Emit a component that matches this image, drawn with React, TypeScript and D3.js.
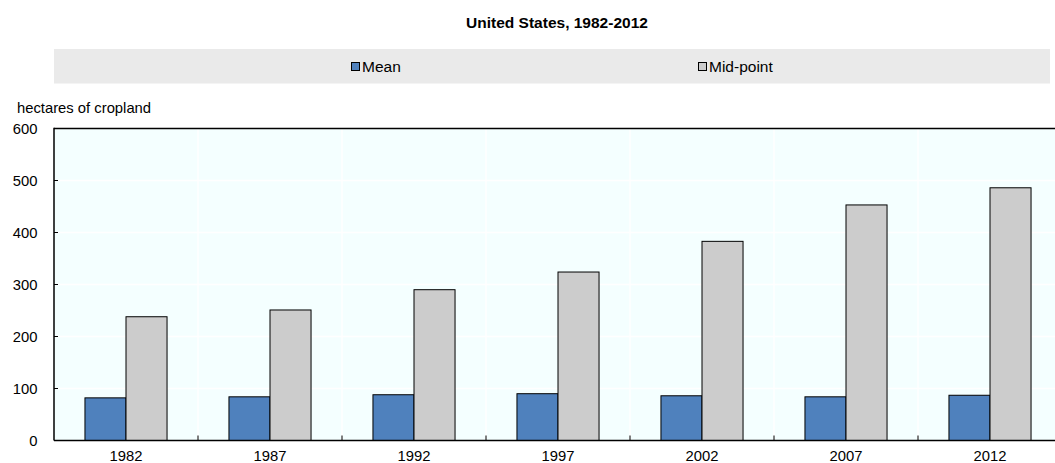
import React from "react";
import * as d3 from "d3";

const title = "United States, 1982-2012";
const yLabel = "hectares of cropland";
const categories = ["1982", "1987", "1992", "1997", "2002", "2007", "2012"];
const seriesNames = ["Mean", "Mid-point"];
const meanValues = [82, 84, 88, 90, 86, 84, 87];
const midValues = [238, 251, 290, 324, 383, 453, 486];
const yTicks = [0, 100, 200, 300, 400, 500, 600];
const colors = ["#4F81BD", "#CCCCCC"];

const W = 1055;
const H = 463;
const FONT = "'Liberation Sans', Arial, sans-serif";

export default function App() {
  const left = 54;
  const right = 1062;
  const top = 128.5;
  const bottom = 440.5;

  const x = d3.scaleBand<string>().domain(categories).range([left, right]).padding(0);
  const y = d3.scaleLinear().domain([0, 600]).range([bottom, top]);
  const barW = x.bandwidth() * 0.285;
  const series = [meanValues, midValues];

  return (
    <svg width={W} height={H} style={{ position: "absolute", left: 0, top: 0, fontFamily: FONT }}>
      <rect x={0} y={0} width={W} height={H} fill="#ffffff" />
      <text x={557} y={28} textAnchor="middle" fontSize={15.5} fontWeight="bold" fill="#000">
        {title}
      </text>
      {/* legend */}
      <rect x={54} y={49} width={996} height={34.5} fill="#EAEAEA" />
      {seriesNames.map((s, i) => {
        const lx = i === 0 ? 351 : 698;
        return (
          <g key={s}>
            <rect x={lx + 0.5} y={62.5} width={8} height={8} fill={colors[i]} stroke="#000" strokeWidth={1} />
            <text x={lx + 11} y={72} fontSize={15.5} fill="#000">
              {s}
            </text>
          </g>
        );
      })}
      <text x={17} y={112.7} fontSize={14.8} fill="#000">
        {yLabel}
      </text>
      {/* plot background */}
      <rect x={left} y={top} width={W - left} height={bottom - top} fill="#F4FFFF" />
      {/* gridlines */}
      {yTicks.slice(1, -1).map((t) => (
        <line key={t} x1={left} x2={W} y1={y(t)} y2={y(t)} stroke="#ffffff" strokeWidth={1.5} />
      ))}
      {categories.slice(1).map((c) => (
        <line key={c} x1={x(c)!} x2={x(c)!} y1={top} y2={bottom} stroke="#ffffff" strokeWidth={1.5} />
      ))}
      {/* bars */}
      {categories.map((c, ci) =>
        series.map((vals, si) => {
          const cx = x(c)! + x.bandwidth() / 2;
          const bx = cx - barW + si * barW;
          return (
            <rect
              key={c + si}
              x={bx}
              y={y(vals[ci])}
              width={barW}
              height={bottom - y(vals[ci])}
              fill={colors[si]}
              stroke="#000"
              strokeWidth={1}
            />
          );
        })
      )}
      {/* top border */}
      <line x1={left} x2={W} y1={top} y2={top} stroke="#000" strokeWidth={1.5} />
      {/* axes */}
      <line x1={left} x2={left} y1={top - 0.75} y2={bottom} stroke="#000" strokeWidth={1.5} />
      <line x1={left} x2={W} y1={bottom} y2={bottom} stroke="#000" strokeWidth={1.5} />
      {yTicks.map((t) => (
        <g key={t}>
          <line x1={left} x2={left + 4} y1={y(t)} y2={y(t)} stroke="#000" strokeWidth={1} />
          <text x={37.5} y={y(t) + 5.3} textAnchor="end" fontSize={14.8} fill="#000">
            {t}
          </text>
        </g>
      ))}
      {categories.slice(1).map((c) => (
        <line key={c} x1={x(c)!} x2={x(c)!} y1={bottom} y2={bottom - 5} stroke="#000" strokeWidth={1} />
      ))}
      {categories.map((c) => (
        <text key={c} x={x(c)! + x.bandwidth() / 2} y={461} textAnchor="middle" fontSize={14.8} fill="#000">
          {c}
        </text>
      ))}
    </svg>
  );
}
